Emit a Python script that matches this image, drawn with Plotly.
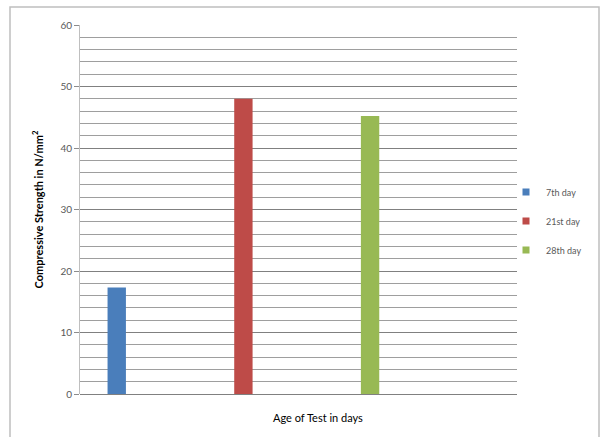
import plotly.graph_objects as go

series = ["7th day", "21st day", "28th day"]
values = [17.3, 48.0, 45.2]
colors = ["#4a7ebb", "#be4b48", "#98b954"]
y_ticks = [0, 10, 20, 30, 40, 50, 60]

fig = go.Figure()
for name, v, c in zip(series, values, colors):
    fig.add_trace(go.Bar(
        x=[name], y=[v], name=name, marker=dict(color=c, line=dict(width=0)),
        width=0.145, showlegend=False,
    ))
# legend entries with small square swatches
for name, c in zip(series, colors):
    fig.add_trace(go.Scatter(
        x=[None], y=[None], mode="markers", name=name, legendgroup=name,
        marker=dict(symbol="square", size=7, color=c),
    ))

L, R, T, B = 80, 84, 25, 43
W, H = 601, 437
pw, ph = W - L - R, H - T - B

def px_x(p):
    return (p - L) / pw

def px_y(p):
    return (H - B - p) / ph

fig.update_layout(
    width=W, height=H,
    margin=dict(l=L, r=R, t=T, b=B, autoexpand=False),
    paper_bgcolor="white", plot_bgcolor="white",
    barmode="overlay",
    font=dict(family="Lato, Liberation Sans, sans-serif", size=10, color="#595959"),
    showlegend=True,
    legend=dict(
        x=px_x(506), y=px_y(221), xanchor="left", yanchor="middle",
        font=dict(size=9, color="#595959"), tracegroupgap=10,
        itemwidth=30, bgcolor="rgba(0,0,0,0)",
    ),
    xaxis=dict(
        type="category", range=[-0.29, 3.16], showticklabels=False,
        showgrid=False, zeroline=False, showline=False, ticks="",
    ),
    yaxis=dict(
        range=[0, 60], tickvals=y_ticks, ticktext=[str(t) for t in y_ticks],
        showgrid=True, gridcolor="#808080", gridwidth=1,
        minor=dict(dtick=2, showgrid=True, gridcolor="#9e9e9e", gridwidth=1),
        showline=True, linecolor="#bfbfbf", linewidth=1,
        ticks="outside", ticklen=5, tickcolor="#8c8c8c",
        zeroline=True, zerolinecolor="#808080", zerolinewidth=1,
        tickfont=dict(size=10, color="#595959"),
        title=dict(text="<b>Compressive Strength in N/mm<sup>2</sup></b>",
                   font=dict(size=11, color="#000000"), standoff=14),
    ),
    shapes=[
        dict(type="rect", xref="paper", yref="paper",
             x0=px_x(10), x1=px_x(599), y0=px_y(440), y1=px_y(7),
             line=dict(color="#bfbfbf", width=1.5), fillcolor="rgba(0,0,0,0)",
             layer="below"),
    ],
    annotations=[
        dict(text="Age of Test in days", xref="paper", yref="paper",
             x=px_x(318), y=px_y(417), xanchor="center", yanchor="middle",
             showarrow=False, font=dict(size=11, color="#000000")),
    ],
)

fig.write_html("out.html")
